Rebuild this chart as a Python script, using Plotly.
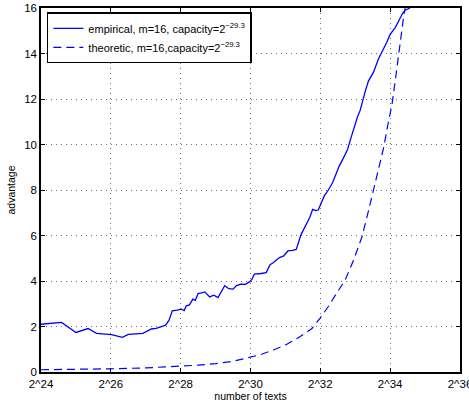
import plotly.graph_objects as go

# empirical curve (x = log2 of number of texts)
emp_x = [24.0, 24.3, 24.59, 25.0, 25.35, 25.59, 26.02, 26.33, 26.5, 26.92, 27.16, 27.3, 27.47, 27.57,
         27.67, 27.76, 27.9, 28.02, 28.1, 28.16, 28.25, 28.35, 28.42, 28.5, 28.6, 28.69, 28.83, 28.95,
         29.07, 29.15, 29.26, 29.38, 29.5, 29.6, 29.73, 29.85, 29.97, 30.04, 30.11, 30.3, 30.45, 30.56,
         30.65, 30.75, 30.83, 30.95, 31.07, 31.2, 31.31, 31.45, 31.59, 31.7, 31.78, 31.86, 31.94, 32.02,
         32.11, 32.23, 32.35, 32.45, 32.54, 32.66, 32.78, 32.88, 32.97, 33.06, 33.14, 33.21, 33.28, 33.38,
         33.52, 33.66, 33.81, 33.9, 34.0, 34.14, 34.24, 34.36, 34.43, 34.5, 34.57]
emp_y = [2.10, 2.15, 2.18, 1.74, 1.91, 1.70, 1.64, 1.52, 1.65, 1.70, 1.89, 1.92, 2.03, 2.06,
         2.29, 2.69, 2.72, 2.76, 2.70, 2.91, 2.95, 3.20, 3.15, 3.45, 3.48, 3.52, 3.30, 3.38,
         3.27, 3.50, 3.79, 3.66, 3.64, 3.80, 3.86, 3.85, 3.96, 4.07, 4.30, 4.33, 4.37, 4.72,
         4.80, 4.93, 5.03, 5.10, 5.32, 5.35, 5.39, 6.05, 6.49, 6.80, 7.15, 7.10, 7.12, 7.45,
         7.73, 8.00, 8.32, 8.70, 9.05, 9.40, 9.78, 10.30, 10.80, 11.20, 11.50, 11.97, 12.30, 12.80,
         13.17, 13.75, 14.19, 14.48, 14.84, 15.13, 15.42, 15.78, 15.90, 15.95, 16.0]

# theoretic curve
th_x = [24.0, 25.0, 26.0, 27.0, 28.0, 28.5, 29.0, 29.5, 29.89, 30.32, 30.66, 31.04, 31.37, 31.76,
        32.0, 32.23, 32.47, 32.71, 32.95, 33.19, 33.38, 33.52, 33.66, 33.81, 33.95, 34.05, 34.14,
        34.24, 34.3, 34.36, 34.4, 34.43]
th_y = [0.10, 0.11, 0.14, 0.18, 0.24, 0.30, 0.37, 0.47, 0.61, 0.78, 0.97, 1.22, 1.51, 1.91,
        2.38, 2.88, 3.47, 4.04, 4.91, 5.93, 7.09, 7.96, 8.83, 9.84, 11.0, 11.73, 12.74,
        13.9, 14.77, 15.49, 15.78, 16.0]

x_tickvals = [24, 26, 28, 30, 32, 34, 36]
x_ticktext = ["2^24", "2^26", "2^28", "2^30", "2^32", "2^34", "2^36"]
y_tickvals = [0, 2, 4, 6, 8, 10, 12, 14, 16]

fig = go.Figure()
fig.add_trace(go.Scatter(x=emp_x, y=emp_y, mode="lines",
                         name="empirical, m=16, capacity=2<sup>\u221229.3</sup>",
                         line=dict(color="#0000FF", width=1.3)))
fig.add_trace(go.Scatter(x=th_x, y=th_y, mode="lines",
                         name="theoretic, m=16,capacity=2<sup>\u221229.3</sup>",
                         line=dict(color="#0000FF", width=1.2, dash="8px,5px")))

axis_common = dict(showline=True, linecolor="black", linewidth=1.5, mirror="ticks",
                   ticks="inside", ticklen=4, tickcolor="black",
                   showgrid=True, gridcolor="#707070", griddash="1px,4px", gridwidth=1,
                   zeroline=False, automargin=False, ticklabeloverflow="allow",
                   tickfont=dict(size=11.5, color="black"))

fig.update_layout(
    width=469, height=408,
    margin=dict(l=41, r=9, t=8, b=36),
    paper_bgcolor="white", plot_bgcolor="white",
    font=dict(family="Liberation Sans, Arial, sans-serif", color="black"),
    showlegend=True,
    legend=dict(x=0.014, y=0.988, xanchor="left", yanchor="top",
                bordercolor="black", borderwidth=1.5, bgcolor="white",
                font=dict(size=11), tracegroupgap=0),
    xaxis=dict(range=[24, 36], tickvals=x_tickvals, ticktext=x_ticktext,
               title=dict(text="number of texts", font=dict(size=10.5), standoff=2),
               **axis_common),
    yaxis=dict(range=[0, 16], tickvals=y_tickvals,
               title=dict(text="advantage", font=dict(size=10.5), standoff=6),
               **axis_common),
)

fig.write_html("out.html", config={"displayModeBar": False},
               post_script="document.body.style.margin='0';")
